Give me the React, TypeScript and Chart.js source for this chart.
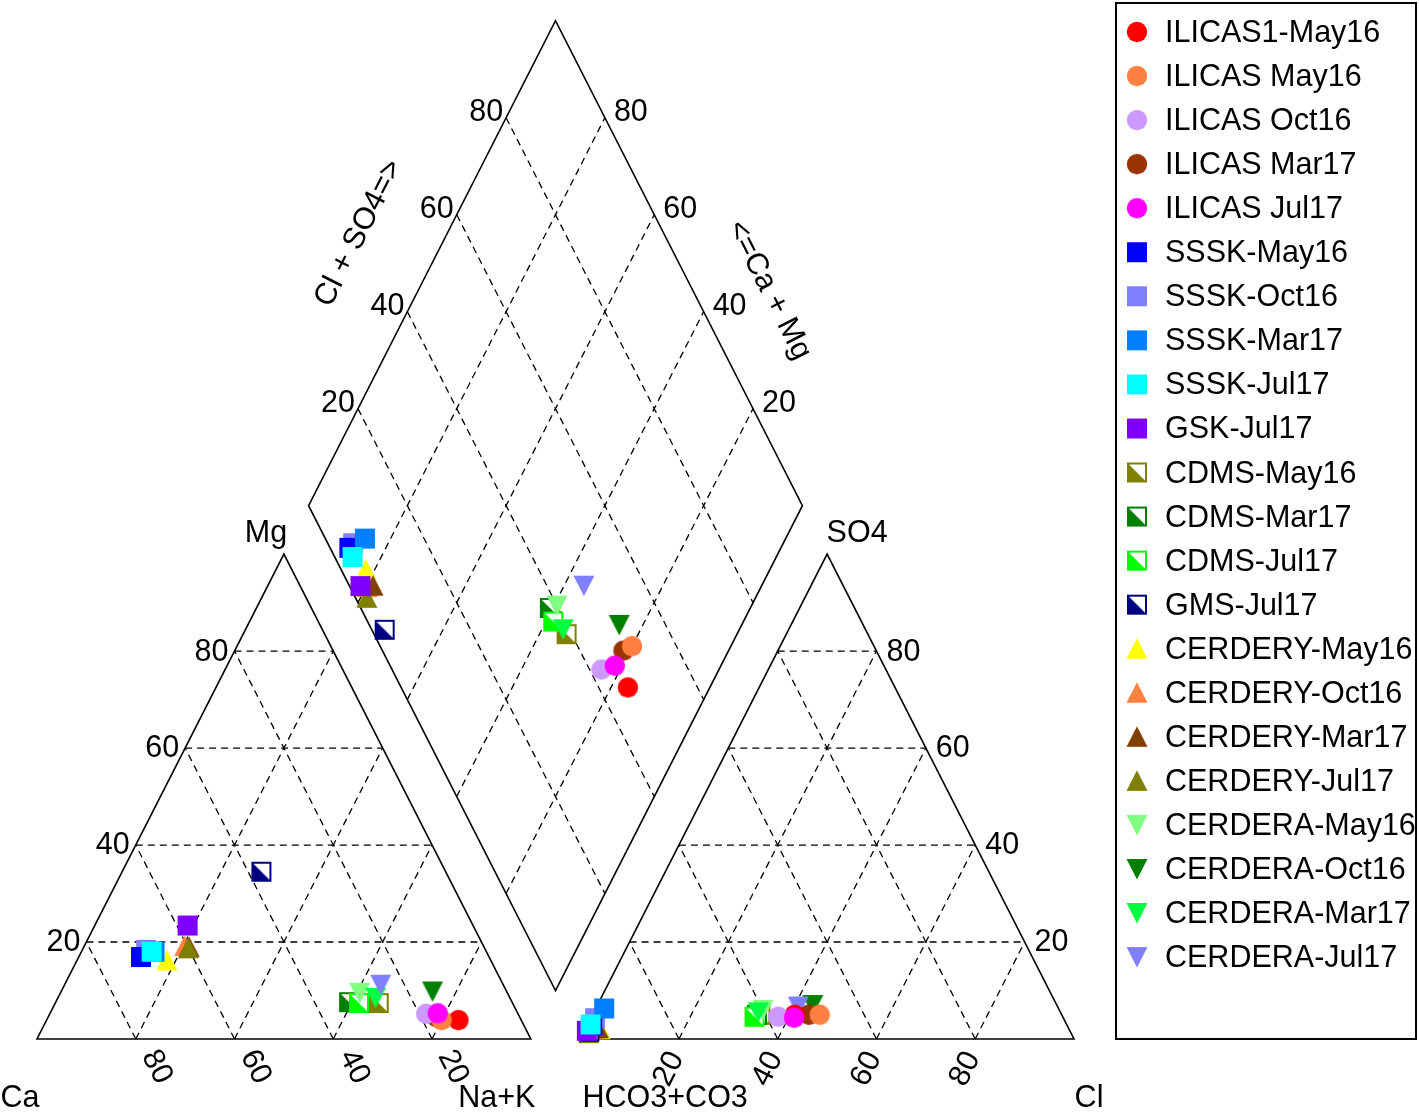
import React, { useEffect, useRef } from "react";
import { Chart, registerables } from "chart.js";

Chart.register(...registerables);

// ---------------- data ----------------
const sampleNames = [
  "ILICAS1-May16", "ILICAS May16", "ILICAS Oct16", "ILICAS Mar17", "ILICAS Jul17",
  "SSSK-May16", "SSSK-Oct16", "SSSK-Mar17", "SSSK-Jul17", "GSK-Jul17",
  "CDMS-May16", "CDMS-Mar17", "CDMS-Jul17", "GMS-Jul17",
  "CERDERY-May16", "CERDERY-Oct16", "CERDERY-Mar17", "CERDERY-Jul17",
  "CERDERA-May16", "CERDERA-Oct16", "CERDERA-Mar17", "CERDERA-Jul17",
];
const sampleColors = [
  "#ff0000", "#ff8040", "#cc99ff", "#993300", "#ff00ff",
  "#0000ff", "#8080ff", "#0080ff", "#00ffff", "#8000ff",
  "#808000", "#008000", "#00ff00", "#000080",
  "#ffff00", "#ff8040", "#804000", "#808000",
  "#80ff80", "#008000", "#00ff40", "#8080ff",
];
const sampleMarkers = [
  "circle", "circle", "circle", "circle", "circle",
  "square", "square", "square", "square", "square",
  "half", "half", "half", "half",
  "up", "up", "up", "up",
  "down", "down", "down", "down",
];
// plotting sequence, bottom layer first (sample indices)
const plotSequence = [14, 15, 16, 17, 13, 6, 5, 7, 9, 8, 10, 11, 12, 18, 19, 20, 21, 3, 0, 1, 2, 4];

// cations (% meq)
const caPct = [12.7, 16.1, 18.6, 16.8, 16.2, 70.5, 68.7, 67.2, 67.8, 57.8, 27.1, 33.0, 31.1, 37.3, 65.6, 60.5, 59.7, 60.0, 29.9, 15.0, 27.2, 24.8];
const mgPct = [3.9, 3.9, 5.2, 4.5, 5.3, 16.9, 18.4, 18.0, 18.0, 23.4, 7.4, 7.6, 7.4, 34.5, 16.2, 19.2, 19.0, 18.7, 9.5, 9.8, 8.5, 11.2];
const naKPct = [83.4, 80.0, 76.2, 78.7, 78.5, 12.6, 12.9, 14.8, 14.2, 18.8, 65.5, 59.4, 61.5, 28.2, 18.2, 20.3, 21.3, 21.3, 60.6, 75.2, 64.3, 64.0];
// anions (% meq)
const hco3Pct = [54.1, 49.0, 57.6, 51.2, 54.5, 96.1, 94.85, 92.0, 96.4, 97.8, 61.0, 61.7, 62.4, 97.4, 95.0, 96.5, 95.2, 97.7, 60.0, 49.4, 61.2, 52.5];
const so4Pct = [5.0, 5.0, 4.6, 5.0, 4.4, 2.9, 4.3, 6.3, 3.0, 1.7, 5.0, 5.0, 4.6, 1.5, 2.0, 2.0, 2.2, 1.2, 6.0, 7.0, 5.5, 6.7];
const clPct = [40.9, 46.0, 37.8, 43.8, 41.1, 1.0, 0.85, 1.7, 0.6, 0.5, 34.0, 33.3, 33.0, 1.1, 3.0, 1.5, 2.6, 1.1, 34.0, 43.6, 33.3, 40.8];
const gridTicks = [20, 40, 60, 80];

// ---------------- geometry ----------------
const H = Math.sqrt(3) / 2;
const GAP = 10;
const OFF = 100 + GAP;
const cationXY = (mg: number, nak: number) => ({ x: nak + mg / 2, y: mg * H });
const anionXY = (so4: number, cl: number) => ({ x: OFF + cl + so4 / 2, y: so4 * H });
const diamondXY = (nak: number, a: number) => ({ x: OFF / 2 + (a + nak) / 2, y: H * (OFF + a - nak) });

const FONT = '30.5px "Liberation Sans", Arial, Helvetica, sans-serif';

function makeMarker(kind: string, color: string): HTMLCanvasElement {
  const c = document.createElement("canvas");
  c.width = 24;
  c.height = 24;
  const g = c.getContext("2d")!;
  g.fillStyle = color;
  g.strokeStyle = color;
  if (kind === "circle") {
    g.beginPath();
    g.arc(12, 12, 10.2, 0, Math.PI * 2);
    g.fill();
  } else if (kind === "square") {
    g.fillRect(2, 2, 20, 20);
  } else if (kind === "up") {
    g.beginPath();
    g.moveTo(12, 1.5);
    g.lineTo(22.5, 22);
    g.lineTo(1.5, 22);
    g.closePath();
    g.fill();
  } else if (kind === "down") {
    g.beginPath();
    g.moveTo(1.5, 2);
    g.lineTo(22.5, 2);
    g.lineTo(12, 22.5);
    g.closePath();
    g.fill();
  } else {
    g.fillStyle = "#ffffff";
    g.fillRect(2, 2, 20, 20);
    g.fillStyle = color;
    g.beginPath();
    g.moveTo(2, 2);
    g.lineTo(2, 22);
    g.lineTo(22, 22);
    g.closePath();
    g.fill();
    g.lineWidth = 2;
    g.strokeRect(3, 3, 18, 18);
  }
  return c;
}

const framePlugin = {
  id: "piperFrame",
  beforeDatasetsDraw(chart: any) {
    const { ctx, scales } = chart;
    const xs = scales.x;
    const ys = scales.y;
    const px = (p: { x: number; y: number }) => [xs.getPixelForValue(p.x), ys.getPixelForValue(p.y)];
    const seg = (a: { x: number; y: number }, b: { x: number; y: number }) => {
      const [x1, y1] = px(a);
      const [x2, y2] = px(b);
      ctx.beginPath();
      ctx.moveTo(x1, y1);
      ctx.lineTo(x2, y2);
      ctx.stroke();
    };
    const poly = (pts: { x: number; y: number }[]) => {
      ctx.beginPath();
      pts.forEach((p, i) => {
        const [a, b] = px(p);
        if (i === 0) ctx.moveTo(a, b);
        else ctx.lineTo(a, b);
      });
      ctx.closePath();
      ctx.stroke();
    };
    ctx.save();
    ctx.strokeStyle = "#000";
    // dashed grid
    ctx.lineWidth = 1.3;
    ctx.setLineDash([7, 5]);
    gridTicks.forEach((k) => {
      seg(cationXY(k, 0), cationXY(k, 100 - k));
      seg(cationXY(0, k), cationXY(100 - k, k));
      seg(cationXY(0, 100 - k), cationXY(100 - k, 0));
      seg(anionXY(k, 0), anionXY(k, 100 - k));
      seg(anionXY(0, k), anionXY(100 - k, k));
      seg(anionXY(0, 100 - k), anionXY(100 - k, 0));
      seg(diamondXY(0, k), diamondXY(100, k));
      seg(diamondXY(k, 0), diamondXY(k, 100));
    });
    // outlines
    ctx.setLineDash([]);
    ctx.lineWidth = 1.6;
    poly([cationXY(0, 0), cationXY(0, 100), cationXY(100, 0)]);
    poly([anionXY(0, 0), anionXY(0, 100), anionXY(100, 0)]);
    poly([diamondXY(100, 0), diamondXY(100, 100), diamondXY(0, 100), diamondXY(0, 0)]);

    // labels
    ctx.fillStyle = "#000";
    ctx.font = FONT;
    const [ex1, ey1] = px(cationXY(100, 0));
    const [ex2, ey2] = px(cationXY(0, 100));
    const ang = Math.atan2(ey2 - ey1, ex2 - ex1);
    gridTicks.forEach((k) => {
      let [a, b] = px(cationXY(k, 0));
      ctx.textAlign = "right";
      ctx.textBaseline = "middle";
      ctx.fillText(String(k), a - 6, b + 1);
      [a, b] = px(anionXY(k, 100 - k));
      ctx.textAlign = "left";
      ctx.fillText(String(k), a + 10, b + 1);
      [a, b] = px(diamondXY(0, k));
      ctx.textAlign = "right";
      ctx.fillText(String(k), a - 3, b - 5);
      [a, b] = px(diamondXY(100 - k, 100));
      ctx.textAlign = "left";
      ctx.fillText(String(k), a + 9, b - 5);
      [a, b] = px(cationXY(0, 100 - k));
      ctx.save();
      ctx.translate(a + 21, b + 28);
      ctx.rotate(ang);
      ctx.textAlign = "center";
      ctx.fillText(String(k), 0, 0);
      ctx.restore();
      [a, b] = px(anionXY(0, k));
      ctx.save();
      ctx.translate(a - 10, b + 30);
      ctx.rotate(-ang);
      ctx.textAlign = "center";
      ctx.fillText(String(k), 0, 0);
      ctx.restore();
    });

    // titles
    ctx.textAlign = "center";
    ctx.textBaseline = "middle";
    let [a, b] = px(cationXY(0, 0));
    ctx.fillText("Ca", a - 17, b + 60);
    [a, b] = px(cationXY(0, 100));
    ctx.fillText("Na+K", a - 34, b + 60);
    [a, b] = px(cationXY(100, 0));
    ctx.fillText("Mg", a - 18, b - 21);
    [a, b] = px(anionXY(0, 0));
    ctx.fillText("HCO3+CO3", a + 85, b + 60);
    [a, b] = px(anionXY(0, 100));
    ctx.fillText("Cl", a + 15, b + 60);
    [a, b] = px(anionXY(100, 0));
    ctx.fillText("SO4", a + 30, b - 21);
    [a, b] = px(diamondXY(0, 50));
    ctx.save();
    ctx.translate(a - 73, b - 30);
    ctx.rotate(-ang);
    ctx.fillText("Cl + SO4=>", 0, 0);
    ctx.restore();
    [a, b] = px(diamondXY(50, 100));
    ctx.save();
    ctx.translate(a + 90, b + 27);
    ctx.rotate(ang);
    ctx.fillText("<=Ca + Mg", 0, 0);
    ctx.restore();
    ctx.restore();
  },
};

function legendPlugin(markers: HTMLCanvasElement[]) {
  return {
    id: "piperLegend",
    afterDraw(chart: any) {
      const ctx = chart.ctx;
      ctx.save();
      ctx.strokeStyle = "#000";
      ctx.lineWidth = 2;
      ctx.strokeRect(1116, 3, 300, 1036);
      ctx.font = FONT;
      ctx.fillStyle = "#000";
      ctx.textAlign = "left";
      ctx.textBaseline = "alphabetic";
      sampleNames.forEach((name, i) => {
        const yc = 32 + i * 44.05;
        ctx.drawImage(markers[i], 1137 - 12, yc - 12);
        ctx.fillText(name, 1165, yc + 10);
      });
      ctx.restore();
    },
  };
}

export default function App() {
  const ref = useRef<HTMLCanvasElement>(null);
  useEffect(() => {
    const canvas = ref.current;
    if (!canvas) return;
    const markers = sampleNames.map((_, i) => makeMarker(sampleMarkers[i], sampleColors[i]));
    const datasets = sampleNames.map((name, i) => ({
      label: name,
      data: [
        cationXY(mgPct[i], naKPct[i]),
        anionXY(so4Pct[i], clPct[i]),
        diamondXY(naKPct[i], so4Pct[i] + clPct[i]),
      ],
      pointStyle: markers[i],
      pointRadius: 10,
      pointHoverRadius: 10,
      backgroundColor: sampleColors[i],
      borderColor: sampleColors[i],
      showLine: false,
      clip: false,
      order: -plotSequence.indexOf(i),
    }));
    const chart = new Chart(canvas, {
      type: "scatter",
      data: { datasets },
      options: {
        responsive: false,
        animation: false,
        events: [],
        layout: { padding: { left: 37, right: 345, top: 20, bottom: 81 } },
        scales: {
          x: { type: "linear", min: 0, max: 210, display: false },
          y: { type: "linear", min: 0, max: 182, display: false },
        },
        plugins: { legend: { display: false }, tooltip: { enabled: false } },
      },
      plugins: [framePlugin, legendPlugin(markers)],
    } as any);
    return () => chart.destroy();
  }, []);
  return (
    <div style={{ position: "absolute", left: 0, top: 0, width: 1419, height: 1120, background: "#fff" }}>
      <canvas ref={ref} width={1419} height={1120} style={{ display: "block" }} />
    </div>
  );
}
